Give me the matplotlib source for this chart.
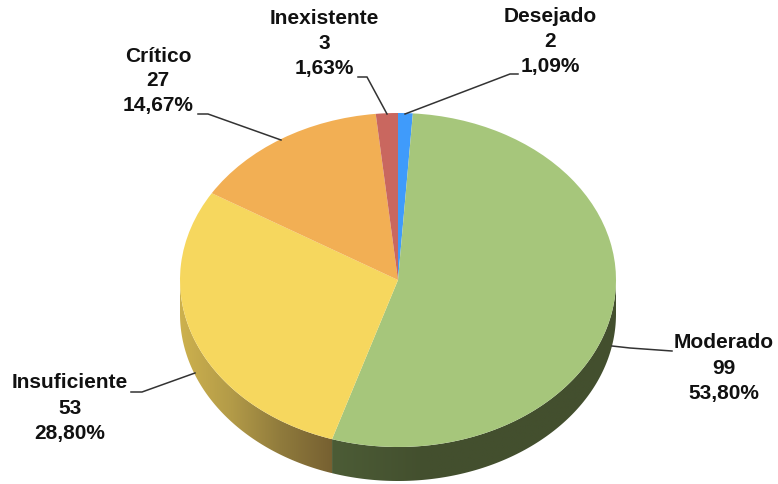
import matplotlib
matplotlib.use('Agg')
import matplotlib.pyplot as plt
import numpy as np
from matplotlib.colors import LinearSegmentedColormap

categories = ['Desejado', 'Moderado', 'Insuficiente', 'Crítico', 'Inexistente']
counts = [2, 99, 53, 27, 3]
percents = ['1,09%', '53,80%', '28,80%', '14,67%', '1,63%']
colors = ['#3F9BFB', '#A6C67B', '#F6D75E', '#F2AF54', '#C9675F']

W, H = 778, 484
cx, cy, rx, ry, depth = 398, 280, 218, 167, 34

plt.rcParams['font.family'] = ['Liberation Sans', 'DejaVu Sans']
fig = plt.figure(figsize=(W / 100, H / 100), dpi=100)

# pixel axes for the side wall
bg = fig.add_axes([0, 0, 1, 1])
bg.axis('off')

ax = fig.add_axes([(cx - rx) / W, (H - cy - ry) / H, 2 * rx / W, 2 * ry / H])
wedges, _ = ax.pie(counts, colors=colors, startangle=90, counterclock=False, radius=1)
ax.set_aspect('auto')
ax.set_xlim(-1, 1)
ax.set_ylim(-1, 1)


def side_wall(w):
    # part of the rim below the horizontal, as a band in pixels
    a = max(min(w.theta1, w.theta2), -180)
    b = min(max(w.theta1, w.theta2), 0)
    t = np.radians(np.linspace(a, b, 120))
    x = cx + rx * np.cos(t)
    y = cy - ry * np.sin(t)
    return np.r_[x, x[::-1]], np.r_[y, y[::-1] + depth]


grad_yellow = LinearSegmentedColormap.from_list('y', ['#CDB14E', '#B39B48', '#8F7A3C', '#766031'])
grad_green = LinearSegmentedColormap.from_list('g', ['#4C5C36', '#434F2E', '#434F2E', '#434F2E'])
for w, cmap in zip([wedges[2], wedges[1]], [grad_yellow, grad_green]):
    px, py = side_wall(w)
    patch, = bg.fill(px, py, color='none', lw=0)
    im = bg.imshow(np.linspace(0, 1, 256)[None, :], cmap=cmap, aspect='auto',
                   extent=[px.min(), px.max(), py.max(), py.min()], zorder=1)
    im.set_clip_path(patch)
bg.set_xlim(0, W)
bg.set_ylim(H, 0)

# overlay on top for labels
top = fig.add_axes([0, 0, 1, 1])
top.set_xlim(0, W)
top.set_ylim(H, 0)
top.axis('off')
top.patch.set_alpha(0)

label_xy = [(550, 41.5), (724, 368), (70, 408), (158, 81), (324, 43.5)]
leaders = [
    ([405, 510, 518], [114, 74, 74]),
    ([612, 630, 672], [346, 348, 351]),
    ([195, 142, 131], [373, 392, 392]),
    ([281, 208, 198], [140, 114, 114]),
    ([387, 367, 358], [114, 77, 77]),
]
for name, n, pct, (x, y) in zip(categories, counts, percents, label_xy):
    top.text(x, y, f'{name}\n{n}\n{pct}', ha='center', va='center', fontsize=15,
             fontweight='bold', color='#111111', linespacing=1.4)
for lx, ly in leaders:
    top.plot(lx, ly, color='#333333', lw=1.1, solid_joinstyle='miter')

fig.savefig('out.png', dpi=100)
